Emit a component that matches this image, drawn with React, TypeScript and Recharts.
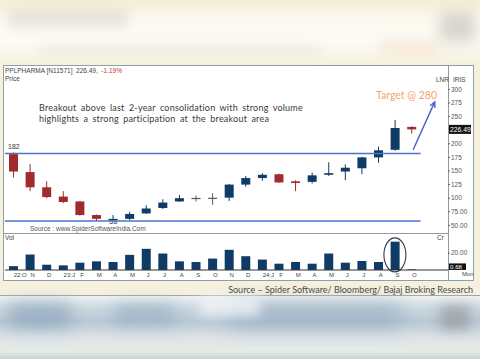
import React from 'react';
import {
  Bar,
  ComposedChart,
  ReferenceDot,
  ReferenceLine,
  XAxis,
  YAxis,
} from 'recharts';

// monthly candles, Oct 2022 .. Oct 2024
const months = ['22:O', 'N', 'D', '23:J', 'F', 'M', 'A', 'M', 'J', 'J', 'A', 'S', 'O', 'N', 'D', '24:J', 'F', 'M', 'A', 'M', 'J', 'J', 'A', 'S', 'O'];
const opens = [181, 148, 120, 103, 94, 69, 60, 62, 72, 82, 94, 100, 100, 101, 125, 137, 144, 131, 130, 143, 149, 155, 175, 189, 231];
const highs = [184, 163, 131, 113, 95, 70, 69, 75, 87, 98, 106, 105, 109, 126, 141, 146, 145, 133, 147, 166, 162, 176, 195, 244, 232];
const lows = [138, 113, 100, 91, 68, 58, 58, 60, 71, 80, 93, 94, 88, 95, 121, 132, 128, 113, 127, 141, 133, 144, 165, 187, 219];
const closes = [149, 120, 102, 93, 69, 62, 62, 71, 81, 92, 100, 100.5, 100.8, 125, 137, 143, 129, 128, 142, 146, 156, 175, 188, 229, 226.49];
const volumes = [4.6, 18.4, 6.3, 5.5, 8.7, 10.3, 9.5, 18, 25.2, 19.6, 10.3, 9.5, 13.6, 24, 16.4, 12.4, 7.5, 9.5, 7.5, 19.6, 8.7, 10.7, 9.5, 33.7, 0.68];

const priceTicks = [50, 75, 100, 125, 150, 175, 200, 250, 275, 300, 226.49];
const volTicks = [0.68, 20];
const lastPrice = 226.49;
const lastVol = 0.68;
const resistance = 182;
const support = 58;
const target = 277;

const data = months.map((m, i) => ({
  i,
  label: m,
  open: opens[i],
  high: highs[i],
  low: lows[i],
  close: closes[i],
  vol: volumes[i],
}));

const RED = '#a12a2c';
const BLUE = '#0f3b66';
const DOJI = '#4d5c6c';
const xDomain = [-0.5, 26.2];
const xTicks = months.map((_, i) => i);

function Candle(props: any) {
  const { x, y, width, height, payload } = props;
  const { open, close, high, low } = payload;
  const ppu = height / (high - low || 1);
  const yO = y + (high - open) * ppu;
  const yC = y + (high - close) * ppu;
  const top = Math.min(yO, yC);
  const bot = Math.max(yO, yC);
  const doji = Math.abs(close - open) < 1.2;
  const color = doji ? DOJI : close >= open ? BLUE : RED;
  const cx = x + width / 2;
  return (
    <g>
      <line x1={cx} x2={cx} y1={y} y2={y + height} stroke={color} strokeWidth={1} />
      <rect x={x} y={top} width={width} height={Math.max(bot - top, 1.2)} fill={color} />
    </g>
  );
}

function PriceTick(props: any) {
  const { x, y, payload } = props;
  const v = payload.value;
  if (v === lastPrice) {
    return (
      <g>
        <rect x={x - 2} y={y - 4.5} width={22} height={9} fill="#111" />
        <text x={x - 1} y={y + 2.4} fontSize={6.8} fill="#fff" fontFamily="Liberation Sans">{v.toFixed(2)}</text>
      </g>
    );
  }
  return (
    <text x={x} y={y + 2.3} fontSize={6.5} fill="#555" fontFamily="Liberation Sans">
      {v < 100 ? v.toFixed(2) : v}
    </text>
  );
}

function VolTick(props: any) {
  const { x, y, payload } = props;
  const v = payload.value;
  if (v === lastVol) {
    return (
      <g>
        <rect x={x - 2} y={y - 6} width={17} height={6.5} fill="#111" />
        <text x={x - 1} y={y - 0.8} fontSize={6.2} fill="#fff" fontFamily="Liberation Sans">{v.toFixed(2)}</text>
      </g>
    );
  }
  return (
    <text x={x} y={y + 2.3} fontSize={6.5} fill="#555" fontFamily="Liberation Sans">{v.toFixed(2)}</text>
  );
}

function MonthTick(props: any) {
  const { x, payload } = props;
  return (
    <text x={x + 0.5} y={43.5} fontSize={6} fill="#444" textAnchor="start" fontFamily="Liberation Sans">
      {months[payload.value]}
    </text>
  );
}

function ArrowShape(props: any) {
  const { x1, y1, x2, y2 } = props;
  const ang = Math.atan2(y2 - y1, x2 - x1);
  const L = 6;
  const a = ang + Math.PI - 0.45;
  const b = ang + Math.PI + 0.45;
  return (
    <g stroke="#4a5fc6" strokeWidth={1.4} fill="none">
      <line x1={x1} y1={y1} x2={x2} y2={y2} />
      <polyline points={`${x2 + L * Math.cos(a)},${y2 + L * Math.sin(a)} ${x2},${y2} ${x2 + L * Math.cos(b)},${y2 + L * Math.sin(b)}`} />
    </g>
  );
}

function Ellipse(props: any) {
  const { cx, cy } = props;
  return <ellipse cx={cx} cy={cy} rx={11} ry={17} fill="none" stroke="#2b3a4a" strokeWidth={1.1} />;
}

const abs = (left: number, top: number, extra: React.CSSProperties = {}): React.CSSProperties => ({
  position: 'absolute',
  left,
  top,
  whiteSpace: 'nowrap',
  ...extra,
});

const tiny: React.CSSProperties = { fontFamily: 'Liberation Sans', fontSize: 6.5, color: '#444', lineHeight: '7px' };

export default function App() {
  return (
    <div style={{ position: 'absolute', left: 0, top: 0, width: 480, height: 359, overflow: 'hidden', background: '#f5f1dc' }}>
      {/* blurred top strip */}
      <div style={abs(0, 0, { width: 480, height: 64, background: 'linear-gradient(180deg,#f3eed5 0%,#fbf9ef 30%,#fcfbf4 65%,#f6f2df 100%)' })} />
      <div style={abs(8, 10, { width: 120, height: 16, background: 'rgba(190,190,185,0.35)', filter: 'blur(6px)' })} />
      <div style={abs(40, 45, { width: 280, height: 10, background: 'rgba(215,215,210,0.35)', filter: 'blur(6px)' })} />
      <div style={abs(440, 12, { width: 35, height: 30, background: 'rgba(170,170,165,0.45)', filter: 'blur(7px)' })} />
      <div style={abs(380, 40, { width: 60, height: 14, background: 'rgba(245,215,195,0.45)', filter: 'blur(6px)' })} />

      {/* blurred bottom strip */}
      <div style={abs(0, 295, { width: 480, height: 64, background: 'linear-gradient(180deg,#eef2f3 0%,#cdd8e0 18%,#b8c8d4 40%,#dce3e6 65%,#e8ece8 85%,#c7d1d6 100%)', borderTop: '1px solid #9aa9b3' })} />
      <div style={abs(10, 302, { width: 60, height: 26, background: 'rgba(120,150,175,0.5)', filter: 'blur(8px)' })} />
      <div style={abs(115, 304, { width: 60, height: 20, background: 'rgba(125,152,178,0.45)', filter: 'blur(8px)' })} />
      <div style={abs(230, 302, { width: 170, height: 26, background: 'rgba(130,158,182,0.45)', filter: 'blur(9px)' })} />
      <div style={abs(200, 296, { width: 60, height: 20, background: 'rgba(240,244,246,0.8)', filter: 'blur(6px)' })} />
      <div style={abs(440, 305, { width: 30, height: 25, background: 'rgba(140,140,140,0.55)', filter: 'blur(6px)' })} />

      <div style={abs(0, 284, { width: 473, textAlign: 'right', fontFamily: 'Lato', fontSize: 9, color: '#4b4b4b' })}>
        Source – Spider Software/ Bloomberg/ Bajaj Broking Research
      </div>

      {/* chart panel */}
      <div style={abs(3, 65, { width: 469, height: 214, background: '#fff', border: '1px solid #8aa1aa' })} />
      <div style={abs(448, 65, { width: 1, height: 215, background: '#8d9aa3' })} />
      <div style={abs(4, 233, { width: 444, height: 1, background: '#8d9aa3' })} />

      <div style={abs(5, 67, tiny)}>
        PPLPHARMA [N11571]&nbsp; 226.49,&nbsp; <span style={{ color: '#c0392b' }}>-1.19%</span>
      </div>
      <div style={abs(5, 75, tiny)}>Price</div>
      <div style={abs(436, 76, tiny)}>LNR</div>
      <div style={abs(453, 76, tiny)}>IRIS</div>
      <div style={abs(5, 234, tiny)}>Vol</div>
      <div style={abs(437, 234, tiny)}>Cr</div>
      <div style={abs(462, 271, { ...tiny, fontSize: 6 })}>Mon</div>

      <div style={abs(8, 143, { ...tiny, fontSize: 7, color: '#333' })}>182</div>
      <div style={abs(109, 218, { ...tiny, fontSize: 7.5, color: '#333' })}>58</div>
      <div style={abs(30, 225, { ...tiny, color: '#555' })}>Source : www.SpiderSoftwareIndia.Com</div>

      <div style={abs(39, 102, { fontFamily: 'Lato', fontSize: 9, lineHeight: '11px', color: '#3a3a3a', wordSpacing: 1.8, letterSpacing: 0.22 })}>
        Breakout above last 2-year consolidation with strong volume
        <br />
        highlights a strong participation at the breakout area
      </div>
      <div style={abs(0, 89, { width: 437, textAlign: 'right', fontFamily: 'Lato', fontSize: 10.5, color: '#f3a56f' })}>
        Target @ 280
      </div>

      {/* price chart */}
      <div style={abs(5, 66)}>
        <ComposedChart width={468} height={167} data={data} margin={{ top: 0, right: 0, bottom: 0, left: 0 }}>
          <XAxis type="number" dataKey="i" domain={xDomain} ticks={xTicks} hide />
          <YAxis
            orientation="right"
            width={25}
            domain={[36, 343]}
            ticks={priceTicks}
            interval={0}
            axisLine={false}
            tickSize={2}
            tickLine={{ stroke: '#666' }}
            tickMargin={1}
            tick={<PriceTick />}
          />
          <ReferenceLine segment={[{ x: -0.5, y: resistance }, { x: 24.55, y: resistance }]} stroke="#4a76c8" strokeWidth={1.5} />
          <ReferenceLine segment={[{ x: -0.5, y: support }, { x: 24.55, y: support }]} stroke="#4a76c8" strokeWidth={1.5} />
          <ReferenceLine segment={[{ x: 24.1, y: 189 }, { x: 25.4, y: target }]} shape={<ArrowShape />} />
          <Bar
            dataKey={(d: any) => [d.low, d.high]}
            barSize={9}
            shape={<Candle />}
            isAnimationActive={false}
          />
        </ComposedChart>
      </div>

      {/* volume chart */}
      <div style={abs(5, 233)}>
        <ComposedChart width={468} height={46} data={data} margin={{ top: 0, right: 0, bottom: 0, left: 0 }}>
          <XAxis
            type="number"
            dataKey="i"
            domain={xDomain}
            ticks={xTicks}
            interval={0}
            height={9}
            axisLine={{ stroke: '#333' }}
            tickLine={false}
            tick={<MonthTick />}
          />
          <YAxis
            orientation="right"
            width={25}
            domain={[0, 44]}
            ticks={volTicks}
            interval={0}
            axisLine={false}
            tickSize={2}
            tickLine={{ stroke: '#666' }}
            tickMargin={1}
            tick={<VolTick />}
          />
          <Bar dataKey="vol" barSize={9} fill={BLUE} isAnimationActive={false} />
          <ReferenceDot x={23} y={18} shape={<Ellipse />} />
        </ComposedChart>
      </div>
    </div>
  );
}
